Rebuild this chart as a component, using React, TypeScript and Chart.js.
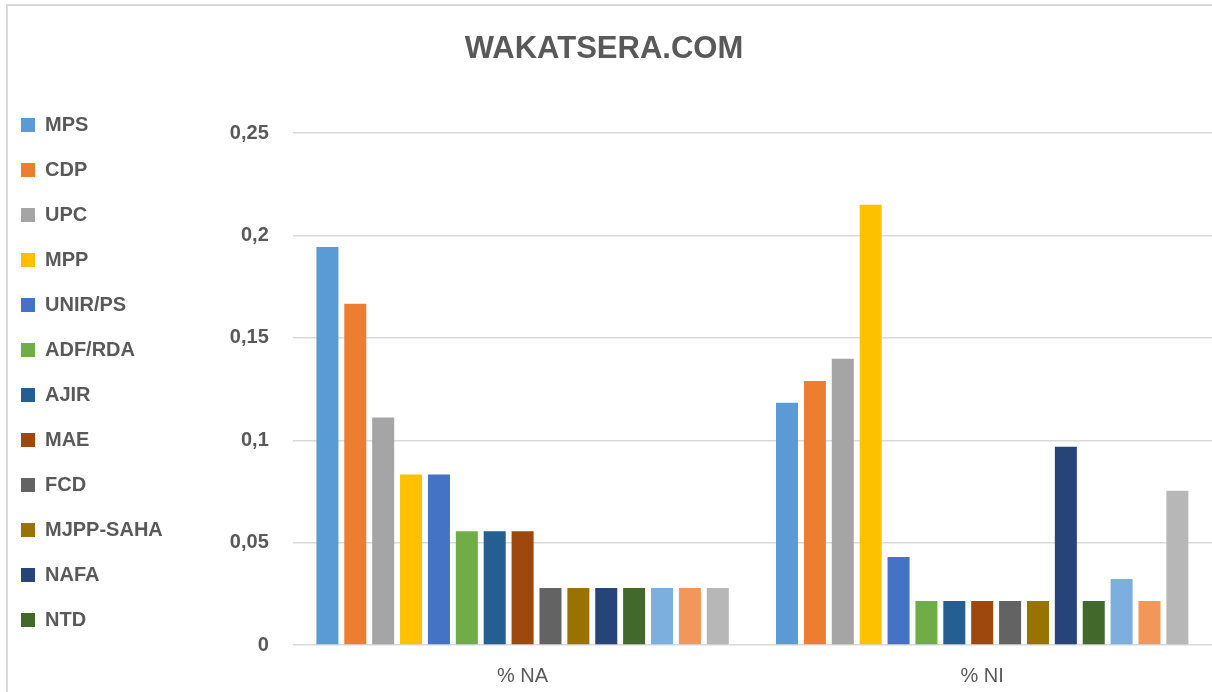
import React, { useEffect, useRef } from "react";
import { Chart, registerables } from "chart.js";

Chart.register(...registerables);

const categories = ["% NA", "% NI"];
const parties = [
  "MPS", "CDP", "UPC", "MPP", "UNIR/PS", "ADF/RDA", "AJIR", "MAE",
  "FCD", "MJPP-SAHA", "NAFA", "NTD", "Série 13", "Série 14", "Série 15",
];
const naValues = [
  0.1944, 0.1667, 0.1111, 0.0833, 0.0833, 0.0556, 0.0556, 0.0556,
  0.0278, 0.0278, 0.0278, 0.0278, 0.0278, 0.0278, 0.0278,
];
const niValues = [
  0.1183, 0.129, 0.1398, 0.2151, 0.043, 0.0215, 0.0215, 0.0215,
  0.0215, 0.0215, 0.0968, 0.0215, 0.0323, 0.0215, 0.0753,
];
const colors = [
  "#5B9BD5", "#ED7D31", "#A5A5A5", "#FFC000", "#4472C4", "#70AD47", "#255E91", "#9E480E",
  "#636363", "#997300", "#264478", "#43682B", "#7CAFDD", "#F1975A", "#B7B7B7",
];
const yTicks = [0, 0.05, 0.1, 0.15, 0.2, 0.25];
const shownLegendCount = 12;

export default function App() {
  const ref = useRef<HTMLCanvasElement | null>(null);

  useEffect(() => {
    if (!ref.current) return;
    Chart.defaults.font.family = "'Liberation Sans', Arial, sans-serif";
    const textColor = "#595959";
    const chart = new Chart(ref.current, {
      type: "bar",
      data: {
        labels: categories,
        datasets: parties.map((p, i) => ({
          label: p,
          data: [naValues[i], niValues[i]],
          backgroundColor: colors[i],
          borderWidth: 0,
          barPercentage: 0.79,
          categoryPercentage: 0.91,
        })),
      },
      options: {
        responsive: false,
        animation: false,
        layout: { padding: { left: -4, right: 0, top: 0, bottom: -15 } },
        plugins: {
          tooltip: { enabled: false },
          title: {
            display: true,
            text: "WAKATSERA.COM",
            color: textColor,
            font: { size: 31, weight: "bold" },
            padding: { top: 31, bottom: 65 },
          },
          legend: {
            position: "left",
            align: "start",
            title: {
              display: true,
              text: " ",
              font: { size: 10, lineHeight: 1 },
              padding: { top: 80, bottom: 0 },
            },
            labels: {
              boxWidth: 14,
              boxHeight: 14,
              padding: 25,
              color: textColor,
              font: { size: 20, weight: "bold" },
              filter: (item: any) => item.datasetIndex < shownLegendCount,
            },
          },
        },
        scales: {
          x: {
            grid: { display: false, drawTicks: false, tickLength: 0 },
            border: { display: false },
            ticks: {
              color: textColor,
              font: { size: 20 },
              padding: 19,
            },
          },
          y: {
            min: 0,
            max: 0.25,
            afterBuildTicks: (scale: any) => {
              scale.ticks = yTicks.map((v) => ({ value: v }));
            },
            afterFit: (scale: any) => {
              scale.width = 120;
            },
            grid: { color: "#D9D9D9", lineWidth: 1.5, drawTicks: false },
            border: { display: false },
            ticks: {
              color: textColor,
              font: { size: 20, weight: "bold" },
              padding: 24,
              callback: (v: any) => String(Math.round(Number(v) * 100) / 100).replace(".", ","),
            },
          },
        },
      },
    });
    return () => chart.destroy();
  }, []);

  return (
    <div style={{ position: "fixed", left: 0, top: 0, width: 1212, height: 692, background: "#fff", overflow: "hidden" }}>
      <div
        style={{
          position: "absolute",
          left: 6,
          top: 4,
          width: 1300,
          height: 800,
          borderTop: "2px solid #D9D9D9",
          borderLeft: "2px solid #D9D9D9",
        }}
      />
      <canvas ref={ref} width={1212} height={692} style={{ position: "absolute", left: 0, top: 0 }} />
    </div>
  );
}
